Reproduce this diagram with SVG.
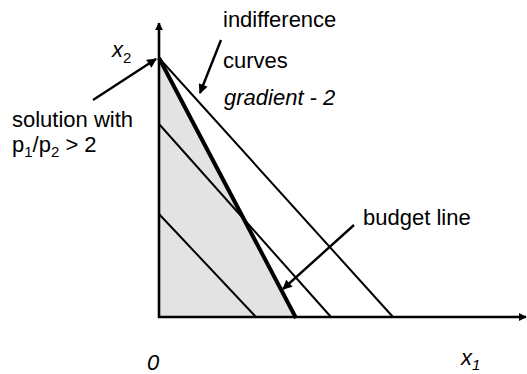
<svg xmlns="http://www.w3.org/2000/svg" width="527" height="374" viewBox="0 0 527 374">
<style>
text{font-family:"Liberation Sans",Arial,sans-serif;font-size:22px;fill:#000}
.it{font-style:italic}
.ic{stroke:#000;stroke-width:2;fill:none}
.ax{stroke:#000;stroke-width:2.6;fill:none}
.ar{stroke:#000;stroke-width:2.4;fill:none}
</style>
<defs>
<marker id="ah" viewBox="0 0 10 10" refX="9" refY="5" markerWidth="5" markerHeight="4" orient="auto" markerUnits="strokeWidth"><path d="M0,0L10,5L0,10z" fill="#000"/></marker>
<marker id="axh" viewBox="0 0 10 10" refX="9" refY="5" markerWidth="3.5" markerHeight="3" orient="auto" markerUnits="strokeWidth"><path d="M0,0L10,5L0,10z" fill="#000"/></marker>
</defs>
<rect width="527" height="374" fill="#fff"/>
<g id="feasible-region"><polygon points="159,58 296,317 159,317" fill="#e3e3e3"/></g>
<g id="axes">
<line class="ax" x1="159" y1="318" x2="159" y2="23" marker-end="url(#axh)"/>
<line class="ax" x1="158" y1="317" x2="526" y2="317" marker-end="url(#axh)"/>
</g>
<g id="indifference-curves">
<line class="ic" x1="159" y1="58" x2="393" y2="317"/>
<line class="ic" x1="159" y1="124" x2="331" y2="317"/>
<line class="ic" x1="159" y1="214" x2="256" y2="317"/>
</g>
<g id="budget-line"><line stroke="#000" stroke-width="4" x1="159" y1="58" x2="296" y2="318"/></g>
<g id="connectors">
<line class="ar" x1="93" y1="100" x2="156" y2="59" marker-end="url(#ah)"/>
<line class="ar" x1="221" y1="40" x2="200" y2="93" marker-end="url(#ah)"/>
<line class="ar" x1="354" y1="225" x2="283" y2="289" marker-end="url(#ah)"/>
</g>
<g id="labels">
<text x="223" y="27">indifference</text>
<text x="223" y="68">curves</text>
<text class="it" x="224" y="105">gradient - 2</text>
<text x="363" y="225">budget line</text>
<text x="12" y="127">solution with</text>
<text x="12" y="152">p<tspan font-size="15" dy="5">1</tspan><tspan dy="-5">/p</tspan><tspan font-size="15" dy="5">2</tspan><tspan dy="-5"> &gt; 2</tspan></text>
<text class="it" x="112" y="57">x<tspan font-size="15" dy="6" font-style="normal">2</tspan></text>
<text class="it" x="147" y="370">0</text>
<text class="it" x="461" y="365">x<tspan font-size="15" dy="5">1</tspan></text>
</g>
</svg>
